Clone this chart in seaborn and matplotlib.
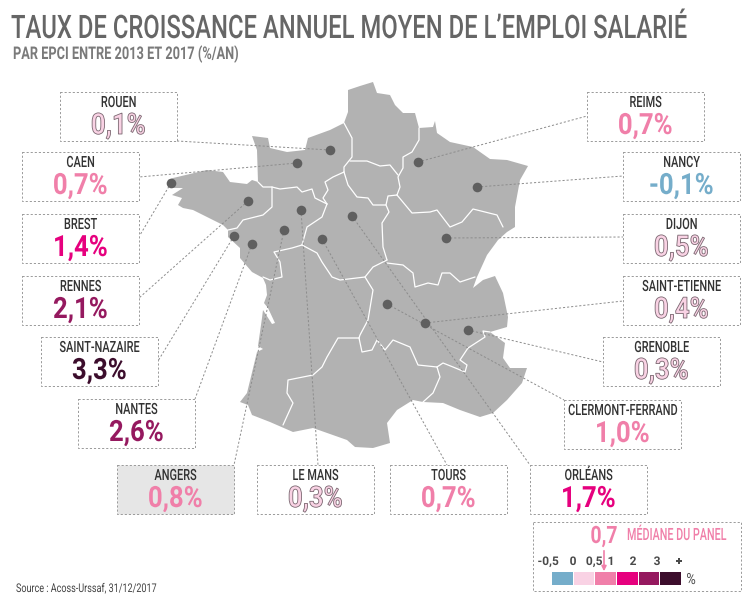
import matplotlib
matplotlib.use("Agg")
import matplotlib.pyplot as plt
import matplotlib.patheffects as pe
from matplotlib.colors import ListedColormap
from matplotlib.patches import Rectangle
from matplotlib.transforms import Affine2D
import numpy as np
import pandas as pd
import seaborn as sns

# chart values
epci = ["ROUEN", "CAEN", "BREST", "RENNES", "SAINT-NAZAIRE", "NANTES", "ANGERS", "LE MANS",
        "TOURS", "ORLÉANS", "CLERMONT-FERRAND", "GRENOBLE", "SAINT-ETIENNE", "DIJON", "NANCY", "REIMS"]
taux = [0.1, 0.7, 1.4, 2.1, 3.3, 2.6, 0.8, 0.3, 0.7, 1.7, 1.0, 0.3, 0.4, 0.5, -0.1, 0.7]
mediane = 0.7
legend_ticks = ["-0,5", "0", "0,5", "1", "2", "3", "+"]
class_limits = [0, 0.5, 1, 2, 3]
class_colors = ["#75adca", "#f9d2e4", "#f07fa9", "#e6007e", "#95195f", "#3c0d2c"]

# layout, in image pixels
box_left = [60, 22, 22, 22, 41, 78, 117, 257, 390, 530, 564, 603, 623, 623, 623, 587]
box_top = [92, 152, 214, 276, 337, 399, 465, 465, 465, 465, 400, 337, 276, 214, 152, 92]
dot_x = [330, 297, 171, 248, 234, 252, 284, 301, 322, 352, 387, 468, 425, 446, 477, 418]
dot_y = [150, 163, 183, 201, 236, 244, 230, 210, 239, 216, 304, 330, 323, 238, 187, 162]
lead_x = [177, 139, 140, 139, 158, 195, 234, 318, 447, 530, 564, 603, 623, 623, 623, 587]
lead_y = [141, 177, 235, 298, 361, 399, 465, 465, 465, 465, 400, 362, 301, 237, 176, 116]
box_w, box_h = 117, 49

france = [(348, 90), (360, 86), (373, 82), (377, 93), (390, 95), (395, 105), (403, 113), (415, 113),
          (419, 128), (433, 127), (435, 121), (437, 133), (450, 142), (473, 147), (490, 159),
          (507, 160), (528, 166), (520, 180), (515, 207), (515, 227), (507, 232), (498, 240),
          (487, 255), (477, 277), (473, 288), (483, 280), (495, 276), (503, 293), (508, 317),
          (507, 327), (490, 332), (505, 343), (503, 358), (510, 368), (527, 368), (522, 383),
          (507, 400), (493, 413), (480, 417), (460, 410), (443, 403), (423, 402), (413, 400),
          (397, 410), (387, 423), (390, 443), (373, 448), (355, 447), (347, 440), (313, 428),
          (293, 432), (270, 422), (252, 415), (248, 405), (240, 402), (247, 393), (257, 352),
          (263, 349), (258, 346), (262, 318), (263, 310), (272, 324), (275, 323), (268, 308),
          (264, 303), (267, 295), (266, 285), (263, 278), (252, 272), (240, 258), (240, 248),
          (228, 237), (228, 230), (223, 225), (217, 222), (203, 215), (193, 210), (183, 208),
          (178, 205), (182, 198), (172, 195), (183, 188), (170, 188), (168, 180), (173, 178),
          (207, 170), (223, 172), (230, 182), (247, 184), (252, 180), (258, 182), (257, 150),
          (252, 136), (268, 138), (270, 148), (287, 152), (305, 150), (308, 138), (330, 130),
          (344, 123), (348, 112)]

borders = [
    [(344, 123), (352, 138), (352, 157), (344, 167), (344, 172)],
    [(350, 161), (367, 161), (380, 166), (390, 165), (398, 175)],
    [(419, 128), (419, 140), (412, 152), (403, 157), (403, 168), (398, 177), (400, 187), (397, 195)],
    [(344, 172), (348, 185), (357, 197), (368, 198), (373, 205), (386, 205), (388, 196), (397, 195)],
    [(397, 195), (412, 213), (430, 212), (437, 210), (450, 227), (462, 222), (473, 209), (497, 215), (503, 227)],
    [(386, 205), (389, 212), (382, 223), (383, 247), (387, 260)],
    [(344, 172), (333, 177), (325, 182), (328, 190), (323, 198), (327, 204)],
    [(258, 182), (263, 187), (272, 187), (280, 189), (297, 187), (302, 192), (312, 189), (315, 198), (327, 204)],
    [(327, 204), (322, 217), (307, 227), (302, 245)],
    [(272, 187), (272, 207), (263, 215), (243, 220), (237, 228), (228, 230)],
    [(302, 245), (292, 248), (274, 252), (280, 262), (282, 277), (270, 280), (263, 277)],
    [(302, 245), (317, 253), (322, 262), (332, 277), (340, 280), (365, 277), (373, 267), (387, 260)],
    [(365, 277), (373, 290), (368, 320), (360, 335), (359, 338)],
    [(359, 338), (338, 338), (327, 357), (322, 367), (313, 375), (288, 380), (287, 393), (293, 403), (283, 425)],
    [(359, 338), (362, 352), (372, 350), (377, 340), (385, 350), (393, 340), (410, 347), (418, 365), (437, 367)],
    [(437, 367), (440, 377), (433, 393), (423, 402)],
    [(437, 367), (443, 363), (453, 367), (465, 372), (467, 365), (460, 360), (468, 348), (485, 337), (483, 331), (490, 332)],
    [(387, 263), (403, 265), (413, 273), (415, 287), (428, 283), (438, 285), (442, 273), (450, 273), (460, 282), (475, 277)],
]


# no condensed font installed: smaller size, then stretched up from the baseline
class Tall(pe.AbstractPathEffect):
    def __init__(self, sy, y0, edge=None, lw=0.6):
        self.sy, self.y0, self.edge, self.lw = sy, y0, edge, lw

    def draw_path(self, renderer, gc, tpath, affine, rgbFace=None):
        aff = affine + Affine2D().translate(0, -self.y0).scale(1, self.sy).translate(0, self.y0)
        gc0 = renderer.new_gc()
        gc0.copy_properties(gc)
        if self.edge:
            gc0.set_foreground(self.edge)
            gc0.set_linewidth(self.lw)
        renderer.draw_path(gc0, tpath, aff, rgbFace)
        gc0.restore()


def tall_text(ax, x, base, s, size, sy, color, ha="center", weight="normal", edge=None, zorder=6):
    t = ax.text(x, base, s, ha=ha, va="baseline", fontsize=size, color=color, fontweight=weight, zorder=zorder)
    t.set_path_effects([Tall(sy, 598 - base, edge)])
    return t


df = pd.DataFrame({"epci": epci, "taux": taux, "x": dot_x, "y": dot_y})
df["classe"] = np.searchsorted(class_limits, df["taux"], side="left")

sns.set_style("white")
plt.rcParams["font.family"] = ["Roboto", "DejaVu Sans"]

fig = plt.figure(figsize=(7.45, 5.98), dpi=100)
ax = fig.add_axes([0, 0, 1, 1])

ax.fill(*zip(*france), color="#b2b2b2", lw=0, zorder=1)
for b in borders:
    ax.plot(*zip(*b), color="white", lw=0.9, zorder=2)

dash = (0, (2.2, 2))
for i in range(len(epci)):
    ax.plot([dot_x[i], lead_x[i]], [dot_y[i], lead_y[i]], color="#8c8c8c", lw=0.7, ls=dash, zorder=3)
sns.scatterplot(data=df, x="x", y="y", color="#5f5f5f", s=48, linewidth=0, ax=ax, zorder=4, legend=False)
ax.set_xlim(0, 745)
ax.set_ylim(598, 0)
ax.axis("off")

for i, row in df.iterrows():
    x0, y0 = box_left[i], box_top[i]
    fill = "#e6e6e6" if row.epci == "ANGERS" else "none"
    ax.add_patch(Rectangle((x0, y0), box_w, box_h, fc=fill, ec="#9a9a9a", lw=0.7, ls=dash, zorder=5))
    tall_text(ax, x0 + box_w / 2, y0 + 15, row.epci, 7.9, 1.41, "#333333", weight="medium")
    label = f"{row.taux:.1f}%".replace(".", ",")
    tall_text(ax, x0 + box_w / 2, y0 + 42, label, 18.5, 1.14, class_colors[row.classe], weight="bold",
              edge="#7a6670" if row.classe == 1 else None)

# title block
tall_text(ax, 11, 38, "TAUX DE CROISSANCE ANNUEL MOYEN DE L’EMPLOI SALARIÉ", 17.15, 1.36, "#666666",
          ha="left", weight="medium")
tall_text(ax, 13, 59, "PAR EPCI ENTRE 2013 ET 2017 (%/AN)", 9.2, 1.37, "#7a7a7a", ha="left", weight="bold")
tall_text(ax, 16, 592, "Source : Acoss-Urssaf, 31/12/2017", 6.5, 1.33, "#444444", ha="left")

# legend
ax.add_patch(Rectangle((533, 522), 208, 69, fc="none", ec="#9a9a9a", lw=0.7, ls=dash, zorder=5))
med = f"{mediane:.1f}".replace(".", ",")
tall_text(ax, 604, 543, med, 14, 1.23, class_colors[2], weight="bold")
tall_text(ax, 627, 540, "MÉDIANE DU PANEL", 7.75, 1.57, class_colors[2], ha="left", weight="medium")
tick_x = [548, 573, 594, 611, 633, 657, 679]
for x, lab in zip(tick_x, legend_ticks):
    tall_text(ax, x, 565, lab, 8.6, 1.0, "#4a4a4a", weight="bold")
tall_text(ax, 691, 584, "%", 9.2, 1.2, "#4a4a4a")

strip = fig.add_axes([551 / 745, 1 - 585 / 598, 130 / 745, 14 / 598])
sns.heatmap([list(range(len(class_colors)))], cmap=ListedColormap(class_colors), cbar=False,
            xticklabels=False, yticklabels=False, linewidths=0.6, linecolor="white", ax=strip)
ax.annotate("", xy=(604, 574), xytext=(604, 548),
            arrowprops=dict(arrowstyle="-|>", color=class_colors[2], lw=1.2, mutation_scale=7), zorder=8)
ax.set_zorder(2)
ax.patch.set_visible(False)

fig.savefig("out.png", dpi=100)
